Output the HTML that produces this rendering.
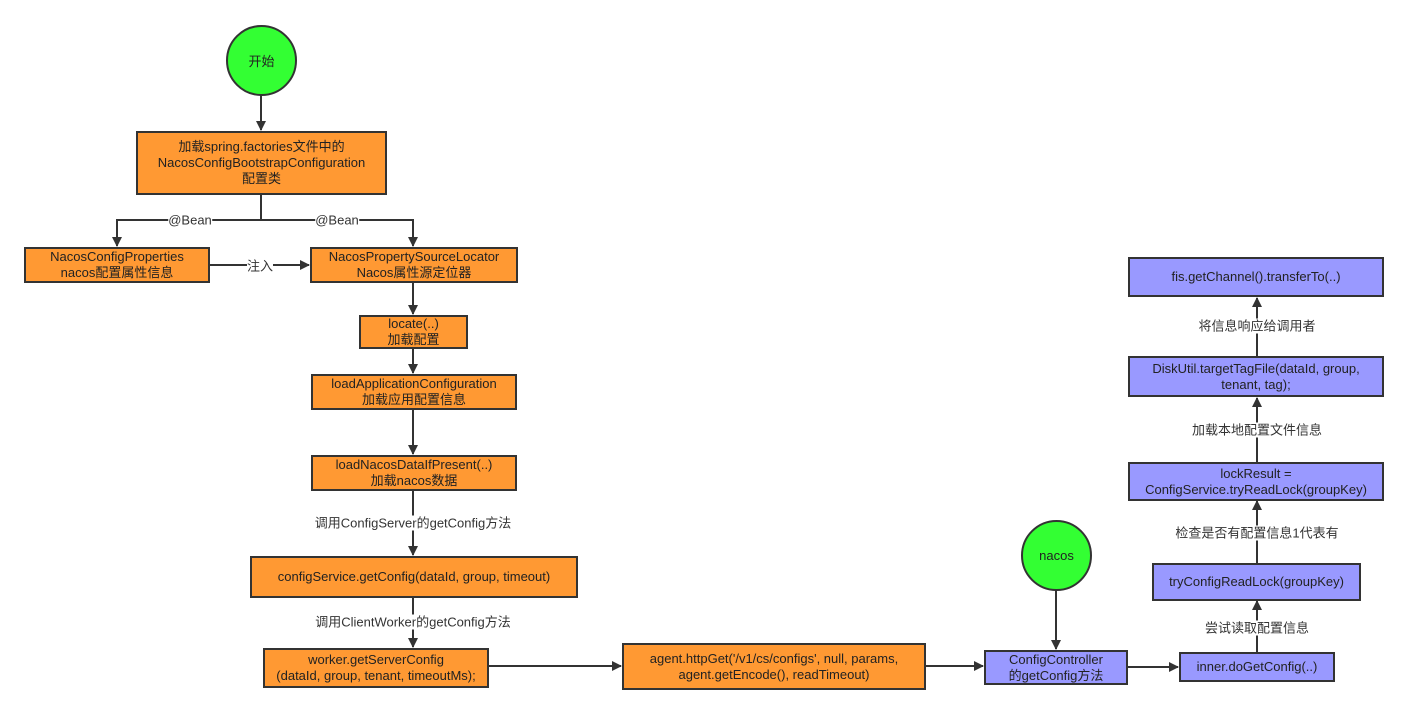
<!DOCTYPE html>
<html><head><meta charset="utf-8"><style>
body{margin:0;width:1408px;height:715px;background:#fff;position:relative;overflow:hidden;font-family:"Liberation Sans","Noto Sans CJK SC",sans-serif;}
.b{position:absolute;box-sizing:border-box;border:2px solid #333;display:flex;align-items:center;justify-content:center;text-align:center;font-size:13px;line-height:16px;color:#222;}
.o{background:#ff9933;}
.p{background:#9999ff;}
.c{position:absolute;box-sizing:border-box;border:2px solid #333;border-radius:50%;background:#33ff33;display:flex;align-items:center;justify-content:center;font-size:13px;color:#222;}
.l{position:absolute;font-size:13px;color:#333;background:#fff;line-height:15px;white-space:nowrap;transform:translate(-50%,-50%);}
svg{position:absolute;left:0;top:0;}
</style></head><body>
<svg width="1408" height="715">
<defs><marker id="a" markerWidth="10" markerHeight="10" refX="9" refY="5" orient="auto" markerUnits="userSpaceOnUse"><path d="M0,0 L10,5 L0,10 z" fill="#333"/></marker></defs>
<g stroke="#333" stroke-width="2" fill="none">
<path d="M261,95 V130" marker-end="url(#a)"/>
<path d="M261,195 V220 H117 V246" marker-end="url(#a)"/>
<path d="M261,220 H413 V246" marker-end="url(#a)"/>
<path d="M210,265 H309" marker-end="url(#a)"/>
<path d="M413,282 V314" marker-end="url(#a)"/>
<path d="M413,348 V373" marker-end="url(#a)"/>
<path d="M413,409 V454" marker-end="url(#a)"/>
<path d="M413,490 V555" marker-end="url(#a)"/>
<path d="M413,597 V647" marker-end="url(#a)"/>
<path d="M489,666 H621" marker-end="url(#a)"/>
<path d="M926,666 H983" marker-end="url(#a)"/>
<path d="M1056,590 V649" marker-end="url(#a)"/>
<path d="M1128,667 H1178" marker-end="url(#a)"/>
<path d="M1257,652 V601" marker-end="url(#a)"/>
<path d="M1257,563 V501" marker-end="url(#a)"/>
<path d="M1257,462 V398" marker-end="url(#a)"/>
<path d="M1257,356 V298" marker-end="url(#a)"/>
</g></svg>
<div class="c" style="left:226px;top:25px;width:71px;height:71px;">开始</div>
<div class="b o" style="left:136px;top:131px;width:251px;height:64px;">加载spring.factories文件中的<br>NacosConfigBootstrapConfiguration<br>配置类</div>
<div class="l" style="left:190px;top:220px;">@Bean</div>
<div class="l" style="left:337px;top:220px;">@Bean</div>
<div class="b o" style="left:24px;top:247px;width:186px;height:36px;">NacosConfigProperties<br>nacos配置属性信息</div>
<div class="l" style="left:260px;top:266px;">注入</div>
<div class="b o" style="left:310px;top:247px;width:208px;height:36px;">NacosPropertySourceLocator<br>Nacos属性源定位器</div>
<div class="b o" style="left:359px;top:315px;width:109px;height:34px;">locate(..)<br>加载配置</div>
<div class="b o" style="left:311px;top:374px;width:206px;height:36px;">loadApplicationConfiguration<br>加载应用配置信息</div>
<div class="b o" style="left:311px;top:455px;width:206px;height:36px;">loadNacosDataIfPresent(..)<br>加载nacos数据</div>
<div class="l" style="left:413px;top:523px;">调用ConfigServer的getConfig方法</div>
<div class="b o" style="left:250px;top:556px;width:328px;height:42px;">configService.getConfig(dataId, group, timeout)</div>
<div class="l" style="left:413px;top:622px;">调用ClientWorker的getConfig方法</div>
<div class="b o" style="left:263px;top:648px;width:226px;height:40px;">worker.getServerConfig<br>(dataId, group, tenant, timeoutMs);</div>
<div class="b o" style="left:622px;top:643px;width:304px;height:47px;">agent.httpGet('/v1/cs/configs', null, params,<br>agent.getEncode(), readTimeout)</div>
<div class="c" style="left:1021px;top:520px;width:71px;height:71px;">nacos</div>
<div class="b p" style="left:984px;top:650px;width:144px;height:35px;">ConfigController<br>的getConfig方法</div>
<div class="b p" style="left:1179px;top:652px;width:156px;height:30px;">inner.doGetConfig(..)</div>
<div class="l" style="left:1257px;top:628px;">尝试读取配置信息</div>
<div class="b p" style="left:1152px;top:563px;width:209px;height:38px;">tryConfigReadLock(groupKey)</div>
<div class="l" style="left:1257px;top:533px;">检查是否有配置信息1代表有</div>
<div class="b p" style="left:1128px;top:462px;width:256px;height:39px;">lockResult =<br>ConfigService.tryReadLock(groupKey)</div>
<div class="l" style="left:1257px;top:430px;">加载本地配置文件信息</div>
<div class="b p" style="left:1128px;top:356px;width:256px;height:41px;">DiskUtil.targetTagFile(dataId, group,<br>tenant, tag);</div>
<div class="l" style="left:1257px;top:326px;">将信息响应给调用者</div>
<div class="b p" style="left:1128px;top:257px;width:256px;height:40px;">fis.getChannel().transferTo(..)</div>
</body></html>
